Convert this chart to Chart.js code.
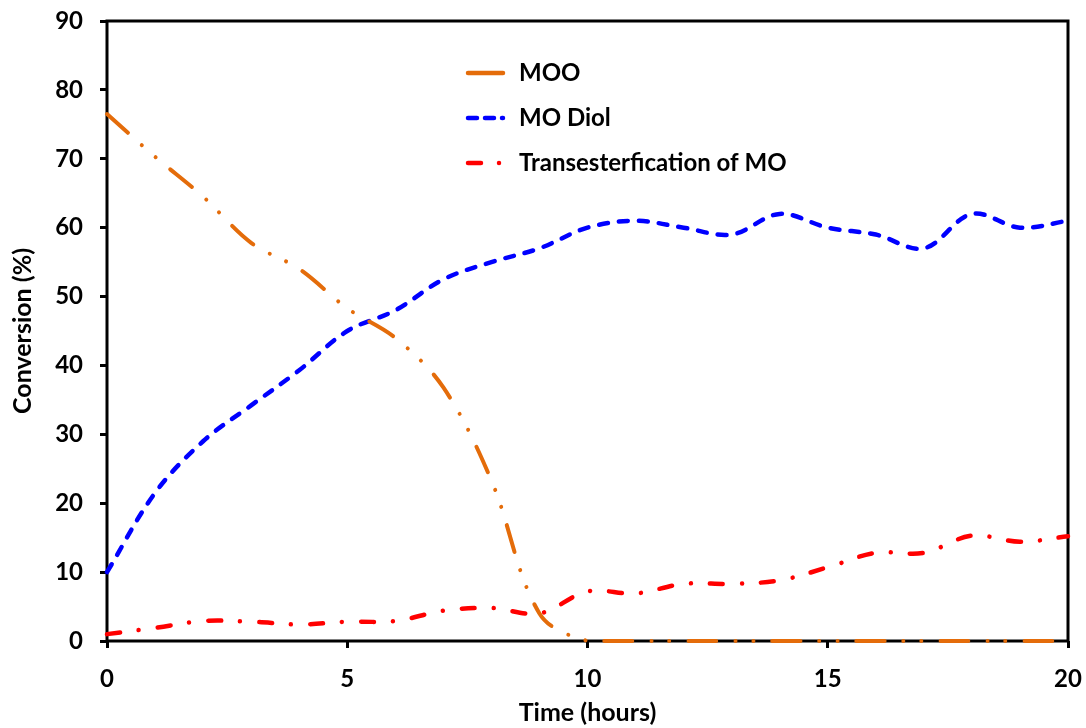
<!DOCTYPE html>
<html>
<head>
<meta charset="utf-8">
<title>Conversion vs time</title>
<script src="https://cdn.jsdelivr.net/npm/chart.js@4.4.1/dist/chart.umd.min.js"></script>
<style>
  html, body { margin: 0; padding: 0; background: #fff; }
  canvas { display: block; }
</style>
</head>
<body>
<canvas id="conv-chart" width="1086" height="728"></canvas>
<script>
  // Values (hourly samples).
  const hours = [0, 1, 2, 3, 4, 5, 6, 7, 8, 9, 10, 11, 12, 13, 14, 15, 16, 17, 18, 19, 20];
  const moo = [76.5, 70.3, 64.5, 57.8, 54, 48.3, 44, 36.8, 23.3, 4, 0, 0, 0, 0, 0, 0, 0, 0, 0, 0, 0];
  const moDiol = [10, 21.5, 29, 34.2, 39.3, 45, 48, 52.5, 55, 57, 60, 61, 60, 59, 62, 60, 59, 57, 62, 60, 61];
  const transMO = [1, 1.9, 2.9, 2.8, 2.4, 2.8, 2.9, 4.4, 4.8, 4, 7.2, 6.9, 8.3, 8.3, 8.8, 10.7, 12.8, 12.8, 15.3, 14.4, 15.2];

  const xTicks = [0, 5, 10, 15, 20];
  const yTicks = [0, 10, 20, 30, 40, 50, 60, 70, 80, 90];

  const FONT = 'Lato';

  function toPoints( ys ) {
    return hours.map( ( h, i ) => ( { x: h, y: ys[ i ] } ) );
  }

  // Legend entries, drawn inside the plot like the original.
  const legendItems = [
    { label: 'MOO', color: '#E46C0A', dash: [] },
    { label: 'MO Diol', color: '#0000FF', dash: [ 9, 8 ] },
    { label: 'Transesterfication of MO', color: '#FF0000', dash: [ 13, 18, 0.01, 20 ] },
  ];

  const framePlugin = {
    id: 'frame',
    beforeDatasetsDraw( chart ) {
      const { ctx, chartArea: a } = chart;
      ctx.save();
      ctx.strokeStyle = '#000';
      ctx.lineWidth = 3;
      ctx.strokeRect( a.left, a.top, a.right - a.left, a.bottom - a.top );
      ctx.restore();
    },
  };

  const insideLegend = {
    id: 'insideLegend',
    afterDraw( chart ) {
      const { ctx, chartArea: a } = chart;
      const x0 = a.left + 361;
      let y = a.top + 52;
      ctx.save();
      legendItems.forEach( ( item ) => {
        ctx.beginPath();
        ctx.strokeStyle = item.color;
        ctx.lineWidth = 4.5;
        ctx.lineCap = 'round';
        ctx.setLineDash( item.dash );
        ctx.moveTo( x0, y );
        ctx.lineTo( x0 + 35, y );
        ctx.stroke();
        ctx.setLineDash( [] );
        ctx.fillStyle = '#000';
        ctx.font = 'bold 24px ' + FONT;
        ctx.textBaseline = 'middle';
        ctx.textAlign = 'left';
        ctx.fillText( item.label, x0 + 51, y );
        y += 45;
      } );
      ctx.restore();
    },
  };

  const axisLine = {
    drawOnChartArea: false,
    drawTicks: true,
    tickLength: 7,
    color: '#000',
    lineWidth: 3,
  };

  new Chart( document.getElementById( 'conv-chart' ), {
    type: 'line',
    data: {
      datasets: [
        {
          label: 'MOO',
          data: toPoints( moo ),
          borderColor: '#E46C0A',
          borderWidth: 4,
          borderDash: [ 28, 19, 0.01, 18, 0.01, 19 ],
          borderCapStyle: 'round',
          clip: 6,
        },
        {
          label: 'MO Diol',
          data: toPoints( moDiol ),
          borderColor: '#0000FF',
          borderWidth: 4.5,
          borderDash: [ 9, 11 ],
          borderCapStyle: 'round',
          clip: 6,
        },
        {
          label: 'Transesterfication of MO',
          data: toPoints( transMO ),
          borderColor: '#FF0000',
          borderWidth: 4.5,
          borderDash: [ 13, 19, 0.01, 19 ],
          borderCapStyle: 'round',
          clip: 6,
        },
      ],
    },
    options: {
      responsive: false,
      animation: false,
      devicePixelRatio: 1,
      layout: { padding: { top: 21, right: 18, left: 0, bottom: 0 } },
      elements: {
        point: { radius: 0 },
        line: { tension: 0.35, fill: false, borderJoinStyle: 'round' },
      },
      plugins: {
        legend: { display: false },
        tooltip: { enabled: false },
      },
      scales: {
        x: {
          type: 'linear',
          min: 0,
          max: 20,
          afterBuildTicks( scale ) {
            scale.ticks = xTicks.map( ( v ) => ( { value: v } ) );
          },
          afterFit( scale ) {
            scale.height = 87;
            scale.paddingLeft = 0;
            scale.paddingRight = 0;
          },
          grid: axisLine,
          border: { display: false },
          ticks: {
            color: '#000',
            font: { family: FONT, size: 24, weight: 'bold' },
            padding: 17,
            maxRotation: 0,
          },
          title: {
            display: true,
            text: 'Time (hours)',
            color: '#000',
            font: { family: FONT, size: 25, weight: 'bold' },
            padding: { top: 0, bottom: 0 },
          },
        },
        y: {
          type: 'linear',
          min: 0,
          max: 90,
          afterBuildTicks( scale ) {
            scale.ticks = yTicks.map( ( v ) => ( { value: v } ) );
          },
          afterFit( scale ) {
            scale.width = 107;
            scale.paddingTop = 0;
            scale.paddingBottom = 0;
          },
          grid: axisLine,
          border: { display: false },
          ticks: {
            color: '#000',
            font: { family: FONT, size: 24, weight: 'bold' },
            padding: 17,
          },
          title: {
            display: true,
            text: 'Conversion (%)',
            color: '#000',
            font: { family: FONT, size: 25, weight: 'bold' },
            padding: { top: 8, bottom: 0 },
          },
        },
      },
    },
    plugins: [ framePlugin, insideLegend ],
  } );
</script>
</body>
</html>
